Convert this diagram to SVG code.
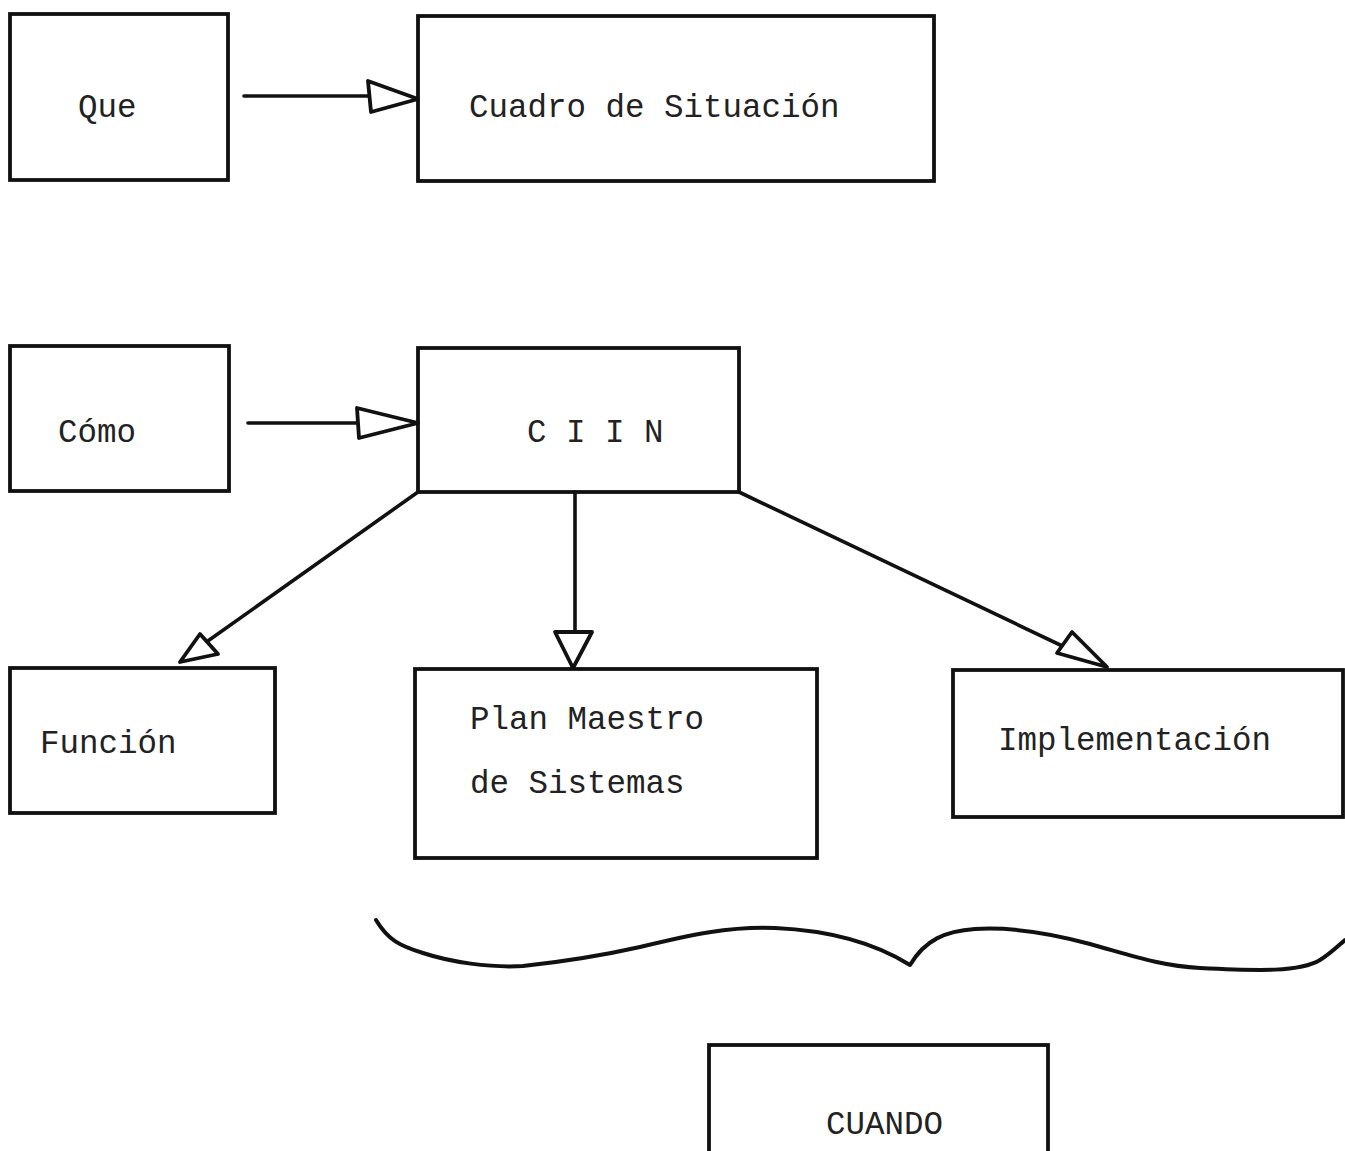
<svg xmlns="http://www.w3.org/2000/svg" width="1345" height="1151" viewBox="0 0 1345 1151">
<style>
.box{fill:#fff;stroke:#111;stroke-width:3.8}
.t{font-family:"Liberation Mono","Courier New",monospace;font-size:32.5px;fill:#222}
.ln{fill:none;stroke:#111;stroke-width:3.6;stroke-linecap:round;stroke-linejoin:round}
.hd{fill:#fff;stroke:#111;stroke-width:3.8;stroke-linejoin:round}
</style>
<rect width="1345" height="1151" fill="#fff"/>
<g id="que"><rect class="box" x="10" y="14" width="218" height="166"/><text class="t" x="78" y="117">Que</text></g>
<g id="cuadro"><rect class="box" x="418" y="16" width="516" height="165"/><text class="t" x="469" y="117">Cuadro de Situación</text></g>
<g id="como"><rect class="box" x="10" y="346" width="219" height="145"/><text class="t" x="58" y="442">Cómo</text></g>
<g id="ciin"><rect class="box" x="418" y="348" width="321" height="144"/><text class="t" x="527" y="442">C I I N</text></g>
<g id="funcion"><rect class="box" x="10" y="668" width="265" height="145"/><text class="t" x="40" y="753">Función</text></g>
<g id="plan"><rect class="box" x="415" y="669" width="402" height="189"/><text class="t" x="470" y="729">Plan Maestro</text><text class="t" x="470" y="793">de Sistemas</text></g>
<g id="implementacion"><rect class="box" x="953" y="670" width="390" height="147"/><text class="t" x="998" y="750">Implementación</text></g>
<g id="cuando"><rect class="box" x="709" y="1045" width="339" height="130"/><text class="t" x="826" y="1134">CUANDO</text></g>
<g id="connectors">
<line class="ln" x1="244" y1="96" x2="369" y2="96"/>
<polygon class="hd" points="368,81 371,112 418,99"/>
<line class="ln" x1="248" y1="423" x2="358" y2="423"/>
<polygon class="hd" points="357,408 359,438 418,423"/>
<line class="ln" x1="418" y1="492" x2="205" y2="643"/>
<polygon class="hd" points="200,634 218,654 180,662"/>
<line class="ln" x1="575" y1="492" x2="575" y2="632"/>
<polygon class="hd" points="555,632 592,632 573,668"/>
<line class="ln" x1="739" y1="492" x2="1075" y2="652"/>
<polygon class="hd" points="1072,632 1057,653 1107,667"/>
<path class="ln" style="stroke-width:4" d="M376,920 C388,940 400,946 423,953 C450,962 490,968 523,966 C560,962 600,956 640,947 C690,935 730,926 775,928 C820,930 870,940 910,965 C925,940 945,931 975,929 C1010,927 1050,933 1090,944 C1130,955 1160,966 1200,968 C1260,971 1300,972 1320,960 C1330,954 1338,946 1345,940"/>
</g>
</svg>
